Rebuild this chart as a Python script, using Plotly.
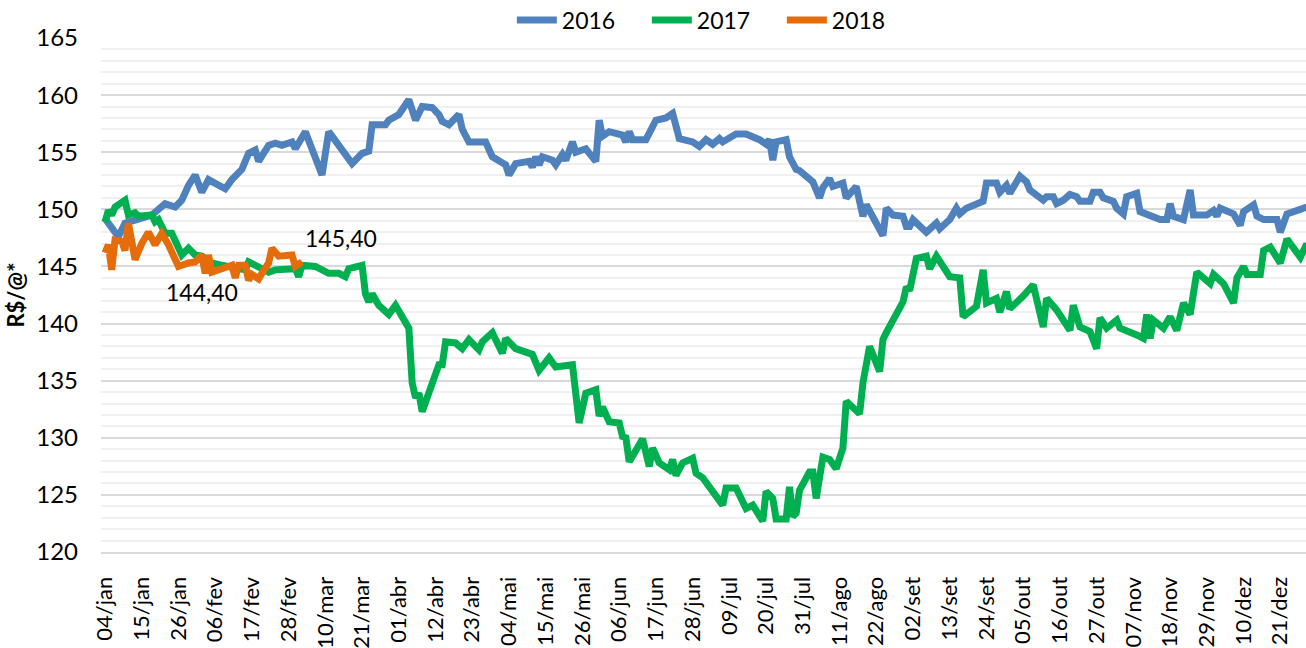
import pandas as pd
import plotly.graph_objects as go

# ---------------- data (x = day of year on the 2016 calendar) ----------------
days_2016 = [4, 8, 10, 18, 22, 25, 27, 29, 31, 33, 35, 40, 42, 45, 47, 49, 50, 53, 55, 57,
             60, 61, 64, 66, 69, 71, 75, 78, 81, 83, 84, 88, 89, 92, 95, 97, 99, 102, 104, 105,
             107, 110, 111, 113, 118, 120, 124, 125, 127, 131, 132, 133, 134, 135, 138, 139, 141, 142, 144, 145,
             148, 151, 152, 153, 155, 159, 160, 161, 162, 166, 169, 172, 174, 176, 180, 182, 184, 186, 188, 189,
             193, 196, 200, 202, 203, 204, 205, 208, 209, 211, 212, 215, 216, 218, 219, 221, 222, 225, 226, 229,
             231, 232, 233, 237, 238, 240, 243, 244, 245, 246, 250, 253, 254, 257, 259, 260, 262, 265, 267, 268,
             271, 272, 274, 275, 278, 280, 281, 285, 286, 288, 289, 291, 293, 295, 296, 299, 300, 302, 303, 306,
             307, 309, 310, 313, 314, 320, 322, 323, 324, 327, 329, 330, 334, 336, 337, 338, 342, 344, 345, 348,
             349, 351, 355, 356, 358, 362, 364]
vals_2016 = [149.2, 147.6, 148.8, 149.5, 150.5, 150.2, 150.8, 152.1, 153.0, 151.5, 152.6, 151.8, 152.6, 153.5, 154.9, 155.2, 154.2, 155.6, 155.8, 155.6,
             155.9, 155.3, 156.8, 155.3, 153.0, 156.8, 155.3, 154.0, 154.9, 155.1, 157.4, 157.4, 157.8, 158.3, 159.6, 157.8, 159.0, 158.9, 158.3, 157.7,
             157.4, 158.3, 157.0, 155.9, 155.9, 154.6, 153.9, 153.0, 154.0, 154.2, 153.7, 154.6, 153.9, 154.6, 154.3, 153.9, 154.8, 154.3, 155.9, 155.0,
             155.3, 154.2, 157.8, 156.4, 156.8, 156.5, 155.9, 156.8, 156.1, 156.1, 157.8, 158.0, 158.4, 156.2, 155.9, 155.5, 156.1, 155.7, 156.2, 155.9,
             156.6, 156.6, 156.1, 155.7, 156.1, 154.3, 155.9, 156.1, 154.6, 153.5, 153.4, 152.6, 152.4, 151.0, 151.9, 152.7, 152.0, 152.3, 151.0, 152.0,
             149.4, 150.4, 149.9, 147.7, 150.1, 149.5, 149.4, 148.5, 148.5, 149.1, 148.0, 148.8, 148.3, 149.1, 150.1, 149.6, 150.1, 150.5, 150.7, 152.3,
             152.3, 151.5, 152.1, 151.4, 152.9, 152.4, 151.7, 150.8, 151.1, 151.1, 150.5, 150.8, 151.3, 151.1, 150.7, 150.7, 151.5, 151.5, 151.0, 150.7,
             150.1, 149.6, 151.1, 151.4, 149.8, 149.1, 149.1, 150.5, 149.4, 149.1, 151.7, 149.5, 149.5, 149.9, 149.4, 150.1, 149.6, 148.6, 149.8, 150.4,
             149.4, 149.1, 149.1, 148.0, 149.6, 150.0, 150.2]

days_2017 = [4, 5, 6, 7, 10, 11, 13, 14, 18, 19, 20, 22, 24, 27, 29, 31, 33, 36, 39, 43,
             46, 47, 50, 53, 55, 61, 62, 63, 67, 71, 74, 76, 77, 81, 82, 83, 84, 86, 89, 91,
             95, 96, 97, 98, 99, 103, 104, 105, 106, 109, 111, 113, 116, 117, 120, 123, 124, 127, 131, 132,
             134, 137, 139, 144, 146, 148, 151, 152, 153, 155, 158, 159, 160, 161, 165, 167, 168, 170, 173, 174,
             175, 177, 180, 181, 183, 188, 189, 190, 193, 196, 198, 201, 202, 204, 205, 208, 209, 210, 211, 212,
             215, 216, 217, 219, 221, 223, 225, 226, 230, 231, 233, 236, 237, 238, 240, 243, 244, 245, 247, 249,
             250, 251, 253, 257, 260, 261, 265, 267, 268, 271, 272, 274, 275, 279, 282, 285, 286, 289, 293, 294,
             296, 299, 301, 302, 304, 307, 308, 313, 315, 316, 317, 318, 321, 323, 325, 327, 329, 331, 335, 336,
             339, 342, 343, 345, 346, 350, 351, 353, 356, 358, 362, 364]
vals_2017 = [148.9, 149.9, 149.5, 150.2, 150.8, 149.5, 149.7, 149.4, 149.5, 148.9, 149.1, 147.9, 147.9, 146.0, 146.6, 146.0, 145.9, 145.3, 145.1, 144.8,
             144.7, 145.4, 145.0, 144.5, 144.7, 144.8, 144.1, 145.1, 145.0, 144.4, 144.4, 144.1, 144.8, 145.1, 142.6, 141.9, 142.6, 141.6, 140.8, 141.6,
             139.6, 134.8, 133.5, 133.9, 132.3, 135.4, 136.4, 136.4, 138.4, 138.3, 137.8, 138.6, 137.7, 138.4, 139.2, 137.4, 138.7, 137.8, 137.5, 137.3,
             135.9, 137.0, 136.2, 136.4, 131.3, 133.9, 134.2, 131.9, 132.7, 131.4, 131.3, 130.1, 130.0, 127.9, 129.9, 127.5, 129.1, 127.8, 127.2, 128.1,
             126.7, 127.8, 128.2, 126.9, 126.5, 124.3, 124.1, 125.6, 125.6, 123.8, 124.1, 122.7, 125.3, 124.7, 122.9, 122.9, 125.7, 123.1, 123.4, 125.4,
             127.0, 127.0, 124.7, 128.3, 128.1, 127.3, 129.1, 133.2, 132.1, 134.8, 138.0, 135.8, 138.6, 139.2, 140.2, 141.9, 143.2, 142.9, 145.7, 145.9,
             145.9, 144.8, 145.9, 144.1, 144.0, 140.6, 141.5, 144.7, 141.8, 142.2, 141.0, 142.8, 141.3, 142.4, 143.4, 139.7, 142.2, 141.2, 139.4, 141.6,
             139.7, 139.3, 137.8, 140.5, 139.6, 140.3, 139.6, 139.0, 138.7, 140.8, 138.7, 140.3, 139.6, 140.6, 139.4, 141.8, 140.8, 144.5, 143.5, 144.3,
             143.5, 141.8, 144.0, 145.0, 144.3, 144.3, 146.4, 146.7, 145.3, 147.4, 145.8, 147.0]

days_2018 = [4, 5, 6, 7, 9, 10, 11, 12, 13, 15, 17, 19, 21, 23, 26, 29, 31, 33, 34, 35,
             36, 39, 42, 43, 44, 46, 47, 48, 50, 51, 53, 54, 56, 60, 61, 63]
vals_2018 = [146.2, 146.9, 144.7, 147.3, 147.2, 146.4, 148.8, 147.5, 145.6, 147.0, 148.0, 146.9, 147.9, 146.9, 145.0, 145.3, 145.4, 146.0, 144.4, 146.0,
             144.5, 144.8, 145.1, 144.0, 145.1, 145.1, 143.8, 144.3, 143.9, 144.4, 145.3, 146.6, 145.9, 146.0, 145.0, 145.4]

series_names = ["2016", "2017", "2018"]
series_colors = ["#4F81BD", "#00B050", "#E46C0A"]

tick_labels = ["04/jan", "15/jan", "26/jan", "06/fev", "17/fev", "28/fev", "10/mar", "21/mar",
               "01/abr", "12/abr", "23/abr", "04/mai", "15/mai", "26/mai", "06/jun", "17/jun",
               "28/jun", "09/jul", "20/jul", "31/jul", "11/ago", "22/ago", "02/set", "13/set",
               "24/set", "05/out", "16/out", "27/out", "07/nov", "18/nov", "29/nov", "10/dez", "21/dez"]

# labelled 2018 points (day, value, text)
label_points = [(34, 144.4, "144,40"), (63, 145.4, "145,40")]

# ---------------- helpers ----------------
BASE = pd.Timestamp("2016-01-01")
MONTHS = {"jan": 1, "fev": 2, "mar": 3, "abr": 4, "mai": 5, "jun": 6,
          "jul": 7, "ago": 8, "set": 9, "out": 10, "nov": 11, "dez": 12}


def to_dates(days):
    return [BASE + pd.Timedelta(days=float(d) - 1) for d in days]


tick_vals = [pd.Timestamp(2016, MONTHS[t.split("/")[1]], int(t.split("/")[0])) for t in tick_labels]

FONT = "Lato, Carlito, Calibri, 'Liberation Sans', sans-serif"

fig = go.Figure()
for days, vals, name, col in zip([days_2016, days_2017, days_2018],
                                 [vals_2016, vals_2017, vals_2018],
                                 series_names, series_colors):
    fig.add_trace(go.Scatter(x=to_dates(days), y=vals, mode="lines", name=name,
                             line=dict(color=col, width=7), cliponaxis=True))

ann_shift = {"144,40": (-3, -19), "145,40": (39, 24)}
for d, v, txt in label_points:
    dx, dy = ann_shift[txt]
    fig.add_annotation(x=to_dates([d])[0], y=v, text=txt, showarrow=False,
                       xshift=dx, yshift=dy, font=dict(family=FONT, size=23, color="#000000"))

fig.update_layout(
    width=1306, height=648,
    margin=dict(l=101, r=0, t=38, b=96, autoexpand=False),
    paper_bgcolor="white", plot_bgcolor="white",
    font=dict(family=FONT, size=22, color="#000000"),
    showlegend=True,
    legend=dict(orientation="h", x=0.509, xanchor="center", y=1.035, yanchor="middle",
                font=dict(family=FONT, size=23, color="#000000"),
                entrywidth=80, entrywidthmode="pixels", bgcolor="rgba(0,0,0,0)",
                itemwidth=40, tracegroupgap=0),
    xaxis=dict(
        type="date", automargin=False,
        range=[BASE + pd.Timedelta(days=1.8), BASE + pd.Timedelta(days=362.7)],
        tickmode="array", tickvals=tick_vals, ticktext=tick_labels,
        tickangle=-90, tickfont=dict(family=FONT, size=22, color="#000000"),
        showgrid=False, zeroline=False,
        showline=True, linecolor="#D9D9D9", linewidth=2,
        ticks="", ticklabelstandoff=14,
    ),
    yaxis=dict(
        range=[120, 165], dtick=5, tick0=120, automargin=False,
        showgrid=True, gridcolor="#D9D9D9", gridwidth=2,
        minor=dict(dtick=1, showgrid=True, gridcolor="#F0F0F0", gridwidth=2),
        zeroline=False, showline=False, ticks="",
        tickfont=dict(family=FONT, size=24, color="#000000"),
        ticklabelstandoff=22,
        title=dict(text="<b>R$/@*</b>", font=dict(family=FONT, size=22, color="#000000"), standoff=5),
    ),
)

fig.write_html("out.html", config={"displayModeBar": False})

# remove the browser's default page margin so the figure fills the window exactly
with open("out.html", "r", encoding="utf-8") as fh:
    html = fh.read()
html = html.replace("<head>", "<head><style>html,body{margin:0;padding:0;overflow:hidden;}</style>", 1)
with open("out.html", "w", encoding="utf-8") as fh:
    fh.write(html)
